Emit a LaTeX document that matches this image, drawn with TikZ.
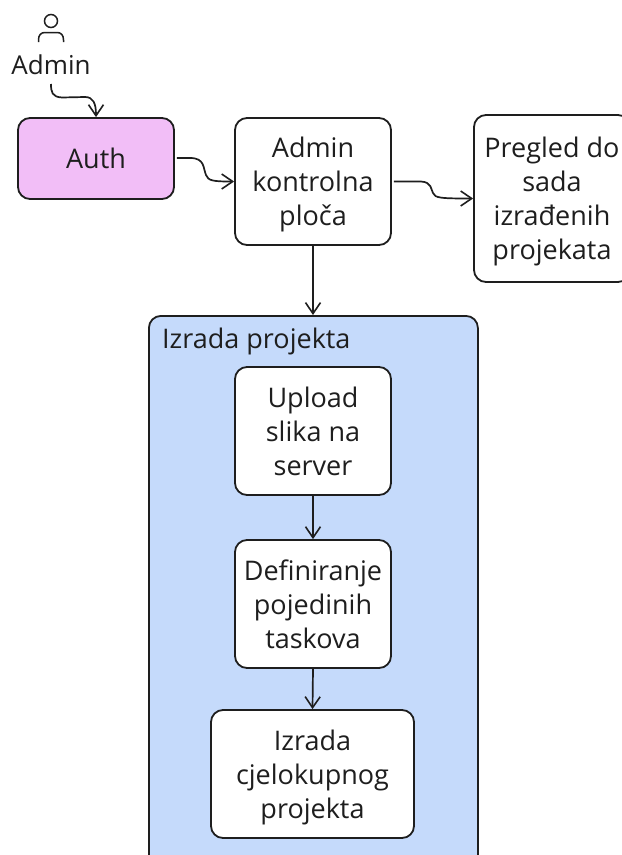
\documentclass[tikz,border=0pt]{standalone}
\usepackage{fontspec}
\setmainfont{Open Sans}
\usetikzlibrary{arrows.meta}
\definecolor{ink}{HTML}{1E1E1E}
\definecolor{pinkfill}{HTML}{F2BEF7}
\definecolor{bluefill}{HTML}{C5DAFB}
\tikzset{
  x=1bp,y=-1bp,
  box/.style={draw=ink,line width=1.8bp,rounded corners=12bp,fill=white,align=center,text=ink,inner sep=0pt,
    text depth=0pt,font=\fontsize{27bp}{34bp}\selectfont},
  conn/.style={draw=ink,line width=1.7bp,-{Straight Barb[length=11bp,width=15bp,line width=1.6bp]}},
  plaintext/.style={text=ink,inner sep=0pt,font=\fontsize{27bp}{34bp}\selectfont},
  sized/.style 2 args={minimum width=#1bp,minimum height=#2bp},
}
\begin{document}
\begin{tikzpicture}
\useasboundingbox (0,0) rectangle (622,855);
\fill[white] (0,0) rectangle (622,855);
% container
\node[box,fill=bluefill,sized={329}{555},anchor=north west] (group) at (148,315) {};
\node[plaintext,anchor=west] (grouptitle) at (162,341) {Izrada projekta};
% boxes
\node[box,fill=pinkfill,sized={156}{81}] (auth) at (96,158.5) {Auth};
\node[box,sized={156}{127}] (panel) at (313,181.5) {Admin\\kontrolna\\ploča};
\node[box,sized={156}{167}] (review) at (552,198.5) {Pregled do\\sada\\izrađenih\\projekata};
\node[box,sized={156}{128}] (upload) at (313,431) {Upload\\slika na\\server};
\node[box,sized={156}{128}] (define) at (313,604) {Definiranje\\pojedinih\\taskova};
\node[box,sized={203}{128}] (build) at (312.5,774) {Izrada\\cjelokupnog\\projekta};
% person
\node[plaintext,font=\fontsize{26bp}{34bp}\selectfont] (admin) at (51,65) {Admin};
\node[draw=ink,line width=1.5bp,circle,minimum size=13bp,inner sep=0pt] (head) at (51,21) {};
\draw[ink,line width=1.5bp] (38.5,42) -- (38.5,40) .. controls (38.5,35) and (41,32.5) .. (45,32.5) -- (57,32.5) .. controls (61,32.5) and (63.5,35) .. (63.5,40) -- (63.5,42);
% connectors
\coordinate (a1) at (51,84);
\draw[conn] (a1) .. controls (51,92) and (52,97) .. (62,97.5) -- (85,97) .. controls (93,97) and (96,103) .. (auth.north);
\draw[conn] (auth.east |- 0,158) ++(2,0) -- (190,158) .. controls (205,158) and (203,168) .. (206,175) .. controls (208,181) and (214,181.5) .. (panel.west);
\draw[conn] (panel.east) ++(2,0) -- (421,181.5) .. controls (432,182) and (431,190) .. (433,193) .. controls (435,198) and (440,198.5) .. (review.west);
\draw[conn] (panel.south) -- (group.north -| panel.south);
\draw[conn] (upload.south) -- (define.north);
\draw[conn] (define.south) -- (build.north);
\end{tikzpicture}
\end{document}
